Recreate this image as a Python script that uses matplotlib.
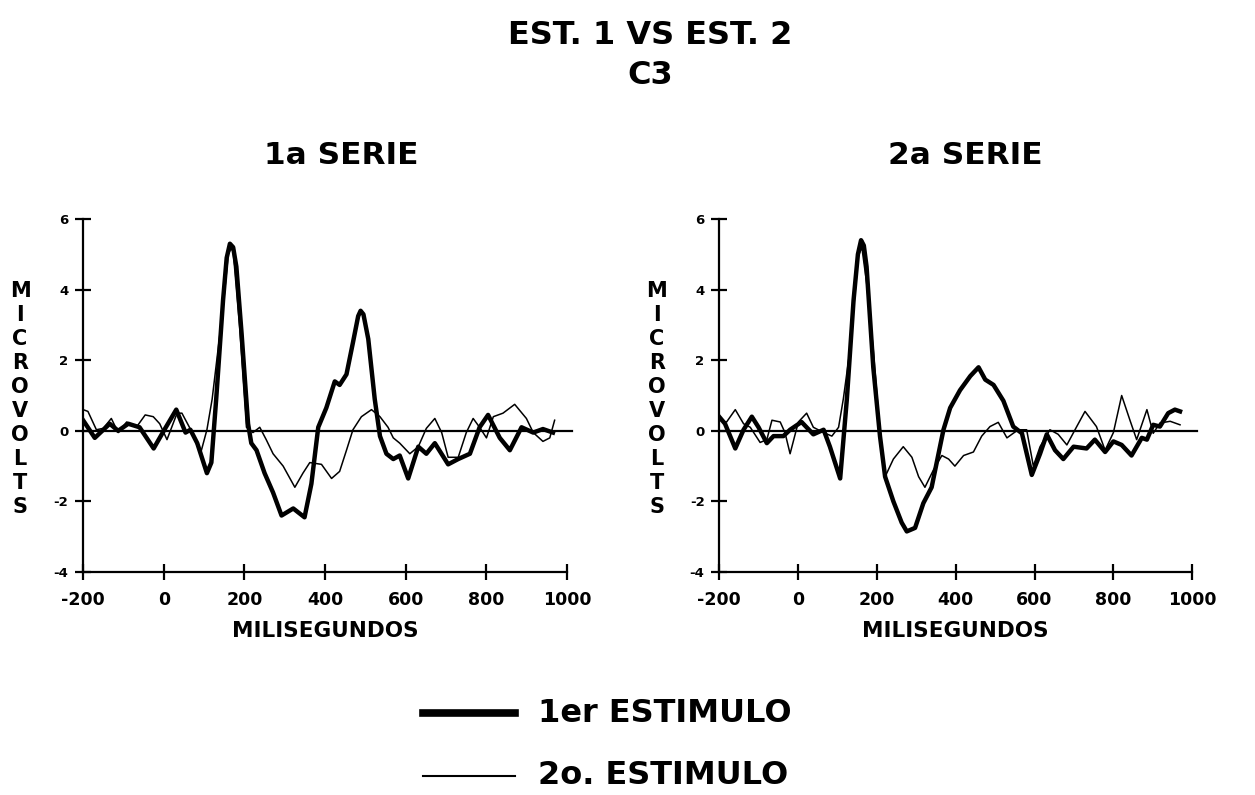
import numpy as np
import matplotlib.pyplot as plt

plt.rcParams['font.family'] = ['DejaVu Sans']
plt.rcParams['font.weight'] = 'bold'
plt.rcParams['axes.unicode_minus'] = False

# 1a SERIE - 1er estimulo (linea gruesa)
t1_est1 = [-200, -171, -134, -113, -88, -60, -25, 0, 31, 54, 66, 83, 107, 118, 130, 147, 156, 164,
           172, 180, 193, 209, 217, 230, 250, 271, 292, 321, 349, 366, 383, 403, 424, 436, 453,
           469, 482, 488, 495, 507, 523, 536, 552, 569, 585, 606, 631, 651, 672, 705, 730, 759, 783,
           804, 833, 858, 887, 916, 940, 965]
v1_est1 = [0.3, -0.2, 0.2, 0.0, 0.2, 0.1, -0.5, 0.0, 0.6, -0.05, 0.03, -0.35, -1.2, -0.9, 0.9,
           3.7, 4.9, 5.3, 5.2, 4.65, 2.75, 0.2, -0.35, -0.55, -1.2, -1.75, -2.4, -2.2, -2.45, -1.5, 0.1,
           0.65, 1.4, 1.3, 1.6, 2.5, 3.25, 3.4, 3.3, 2.6, 0.9, -0.15, -0.65, -0.8, -0.7, -1.35, -0.45,
           -0.65, -0.35, -0.95, -0.8, -0.65, 0.1, 0.45, -0.2, -0.55, 0.1, -0.05, 0.05, -0.05]

# 1a SERIE - 2o estimulo (linea fina)
t1_est2 = [-200, -188, -167, -150, -130, -113, -92, -68, -46, -26, -10, 8, 33, 45, 66, 91, 107,
           120, 147, 160, 166, 172, 188, 205, 221, 238, 254, 271, 296, 325, 345, 362, 391, 416,
           436, 453, 469, 490, 515, 536, 556, 569, 585, 610, 631, 651, 672, 689, 705, 730,
           750, 767, 783, 800, 817, 841, 870, 899, 916, 940, 957, 969]
v1_est2 = [0.6, 0.55, 0.03, 0.07, 0.35, -0.05, 0.25, 0.1, 0.45, 0.4, 0.2, -0.25, 0.5, 0.5, 0.05,
           -0.65, 0.03, 0.9, 3.5, 5.0, 5.15, 5.1, 2.95, 0.1, -0.05, 0.1, -0.25, -0.65, -1.0, -1.6,
           -1.2, -0.9, -0.95, -1.35, -1.15, -0.55, 0.03, 0.4, 0.6, 0.4, 0.1, -0.2, -0.35,
           -0.65, -0.45, 0.07, 0.35, -0.05, -0.75, -0.75, -0.05, 0.35, 0.1, -0.2, 0.4, 0.5,
           0.75, 0.35, -0.05, -0.3, -0.2, 0.3]

# 2a SERIE - 1er estimulo
t2_est1 = [-200, -185, -159, -138, -117, -100, -79, -62, -37, -20, 9, 39, 65, 81, 107, 124, 141,
           152, 160, 167, 174, 191, 208, 221, 242, 263, 276, 297, 318, 339, 369, 386, 411, 437, 458,
           475, 496, 521, 546, 568, 593, 614, 631, 652, 673, 699, 732, 753, 779, 800, 821,
           846, 872, 885, 901, 918, 939, 956, 969]
v2_est1 = [0.4, 0.2, -0.5, 0.03, 0.4, 0.1, -0.35, -0.15, -0.15, 0.03, 0.25, -0.1, 0.03, -0.45,
           -1.35, 0.9, 3.7, 5.0, 5.4, 5.25, 4.65, 1.8, -0.15, -1.3, -2.0, -2.6, -2.85, -2.75, -2.05,
           -1.6, 0.03, 0.65, 1.15, 1.55, 1.8, 1.45, 1.3, 0.85, 0.12, -0.07, -1.25, -0.65,
           -0.1, -0.55, -0.8, -0.45, -0.5, -0.25, -0.6, -0.3, -0.4, -0.7, -0.2, -0.25, 0.17,
           0.12, 0.5, 0.6, 0.55]

# 2a SERIE - 2o estimulo
t2_est2 = [-200, -181, -159, -138, -121, -96, -79, -66, -45, -33, -20, 1, 22, 39, 65, 86, 103,
           115, 132, 153, 162, 174, 191, 208, 221, 242, 267, 289, 306, 322, 344, 365, 382,
           398, 420, 445, 466, 487, 508, 530, 546, 559, 580, 597, 614, 639, 660, 682, 707,
           728, 757, 779, 800, 821, 842, 859, 885, 901, 918, 944, 969]
v2_est2 = [0.3, 0.25, 0.6, 0.2, 0.1, -0.33, -0.25, 0.3, 0.25, -0.05, -0.65, 0.25, 0.5, 0.1,
           -0.05, -0.15, 0.1, 0.9, 2.3, 4.95, 5.2, 4.2, 2.3, -0.05, -1.3, -0.8, -0.45, -0.75,
           -1.3, -1.6, -1.1, -0.7, -0.8, -1.0, -0.7, -0.6, -0.15, 0.12, 0.24, -0.2, -0.07,
           0.03, 0.03, -1.0, -0.45, 0.03, -0.1, -0.4, 0.12, 0.55, 0.12, -0.55, -0.05, 1.0,
           0.3, -0.25, 0.6, -0.07, 0.22, 0.27, 0.17]

x_ticks = [-200, 0, 200, 400, 600, 800, 1000]
y_ticks = [-4, -2, 0, 2, 4, 6]
panel_titles = ['1a SERIE', '2a SERIE']


def draw_panel(ax, t_a, v_a, t_b, v_b):
    ax.axhline(0, color='black', lw=1.6, xmin=0, xmax=1.01, clip_on=False, zorder=1)
    ax.plot(t_b, v_b, color='black', lw=1.1, solid_joinstyle='round', zorder=2)
    ax.plot(t_a, v_a, color='black', lw=3.2, solid_joinstyle='round', zorder=3)
    ax.set_xlim(-200, 1000)
    ax.set_ylim(-4, 6)
    ax.set_xticks(x_ticks)
    ax.set_yticks(y_ticks)
    ax.spines['top'].set_visible(False)
    ax.spines['right'].set_visible(False)
    ax.spines['left'].set_linewidth(1.6)
    ax.spines['bottom'].set_linewidth(1.6)
    ax.tick_params(axis='both', direction='inout', length=11, width=1.6)
    ax.tick_params(axis='x', labelsize=12.5, pad=8)
    ax.tick_params(axis='y', labelsize=9.5, pad=5)
    for lab in ax.get_xticklabels() + ax.get_yticklabels():
        lab.set_fontweight('bold')
    ax.set_xlabel('MILISEGUNDOS', fontsize=15.5, fontweight='bold', labelpad=9)


fig = plt.figure(figsize=(12.55, 7.95), dpi=100)
ax1 = fig.add_axes([0.0662, 0.2805, 0.3857, 0.444])
ax2 = fig.add_axes([0.573, 0.2805, 0.377, 0.444])

draw_panel(ax1, t1_est1, v1_est1, t1_est2, v1_est2)
draw_panel(ax2, t2_est1, v2_est1, t2_est2, v2_est2)

fig.text(650 / 1255, 1 - 35 / 795, 'EST. 1 VS EST. 2', ha='center', va='center', fontsize=23, fontweight='bold')
fig.text(650 / 1255, 1 - 76 / 795, 'C3', ha='center', va='center', fontsize=23, fontweight='bold')
fig.text(341 / 1255, 1 - 155 / 795, panel_titles[0], ha='center', va='center', fontsize=22.5, fontweight='bold')
fig.text(965 / 1255, 1 - 155 / 795, panel_titles[1], ha='center', va='center', fontsize=22.5, fontweight='bold')

# etiqueta vertical letra por letra
for x_px in [20, 657]:
    fig.text(x_px / 1255, 1 - 399 / 795, '\n'.join('MICROVOLTS'), ha='center', va='center',
             fontsize=15, fontweight='bold', linespacing=1.25)

# leyenda
fig.add_artist(plt.Line2D([423 / 1255, 515 / 1255], [1 - 713 / 795] * 2, color='black', lw=5.5))
fig.add_artist(plt.Line2D([423 / 1255, 515 / 1255], [1 - 776 / 795] * 2, color='black', lw=1.5))
fig.text(538 / 1255, 1 - 714 / 795, '1er ESTIMULO', ha='left', va='center', fontsize=23, fontweight='bold')
fig.text(538 / 1255, 1 - 776 / 795, '2o. ESTIMULO', ha='left', va='center', fontsize=23, fontweight='bold')

fig.savefig('out.png', dpi=100)
